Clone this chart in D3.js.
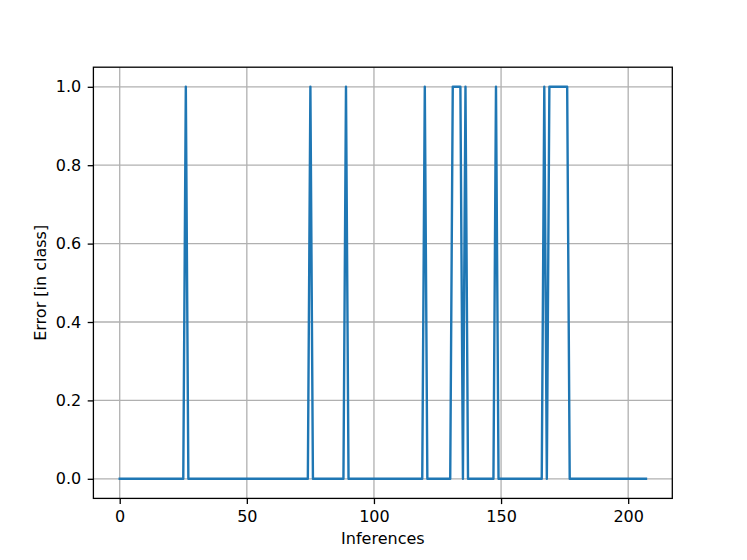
<!DOCTYPE html>
<html>
<head>
<meta charset="utf-8">
<script src="https://cdn.jsdelivr.net/npm/d3@7"></script>
<style>
  body { margin: 0; background: #fff; }
  svg { display: block; font-family: "DejaVu Sans", sans-serif; }
</style>
</head>
<body>
<div id="chart"></div>
<script>
// error per inference (0 = right class, 1 = wrong class)
const errors = [
  0, 0, 0, 0, 0, 0, 0, 0, 0, 0,
  0, 0, 0, 0, 0, 0, 0, 0, 0, 0,
  0, 0, 0, 0, 0, 0, 1, 0, 0, 0,
  0, 0, 0, 0, 0, 0, 0, 0, 0, 0,
  0, 0, 0, 0, 0, 0, 0, 0, 0, 0,
  0, 0, 0, 0, 0, 0, 0, 0, 0, 0,
  0, 0, 0, 0, 0, 0, 0, 0, 0, 0,
  0, 0, 0, 0, 0, 1, 0, 0, 0, 0,
  0, 0, 0, 0, 0, 0, 0, 0, 0, 1,
  0, 0, 0, 0, 0, 0, 0, 0, 0, 0,
  0, 0, 0, 0, 0, 0, 0, 0, 0, 0,
  0, 0, 0, 0, 0, 0, 0, 0, 0, 0,
  1, 0, 0, 0, 0, 0, 0, 0, 0, 0,
  0, 1, 1, 1, 1, 0, 1, 0, 0, 0,
  0, 0, 0, 0, 0, 0, 0, 0, 1, 0,
  0, 0, 0, 0, 0, 0, 0, 0, 0, 0,
  0, 0, 0, 0, 0, 0, 0, 1, 0, 1,
  1, 1, 1, 1, 1, 1, 1, 0, 0, 0,
  0, 0, 0, 0, 0, 0, 0, 0, 0, 0,
  0, 0, 0, 0, 0, 0, 0, 0, 0, 0,
  0, 0, 0, 0, 0, 0, 0, 0
];
const xTicks = [0, 50, 100, 150, 200];
const yTicks = [0.0, 0.2, 0.4, 0.6, 0.8, 1.0];

const W = 747, H = 560;
const margin = {top: 67.2, right: 747 - 672.3, bottom: 560 - 498.4, left: 93.4};
const width = W - margin.left - margin.right,
      height = H - margin.top - margin.bottom;

const svg = d3.select("#chart").append("svg")
    .attr("width", W)
    .attr("height", H);
svg.append("rect").attr("width", W).attr("height", H).attr("fill", "#fff");

const g = svg.append("g")
    .attr("transform", "translate(" + margin.left + "," + margin.top + ")");

// matplotlib style 5% margins
const n = errors.length - 1;
const x = d3.scaleLinear().domain([-0.05 * n, n * 1.05]).range([0, width]);
const y = d3.scaleLinear().domain([-0.05, 1.05]).range([height, 0]);

// grid
g.append("g").selectAll("line").data(xTicks).enter().append("line")
    .attr("x1", d => x(d)).attr("x2", d => x(d))
    .attr("y1", 0).attr("y2", height)
    .attr("stroke", "#b0b0b0").attr("stroke-width", 1.3);
g.append("g").selectAll("line").data(yTicks).enter().append("line")
    .attr("y1", d => y(d)).attr("y2", d => y(d))
    .attr("x1", 0).attr("x2", width)
    .attr("stroke", "#b0b0b0").attr("stroke-width", 1.3);

// data line
const line = d3.line()
    .x((d, i) => x(i))
    .y(d => y(d));
g.append("path")
    .datum(errors)
    .attr("d", line)
    .attr("fill", "none")
    .attr("stroke", "#1f77b4")
    .attr("stroke-width", 2.4)
    .attr("stroke-linejoin", "round")
    .attr("stroke-linecap", "square");

// axes
const xAxis = g.append("g")
    .attr("transform", "translate(0," + height + ")")
    .call(d3.axisBottom(x).tickValues(xTicks).tickSize(5.7).tickPadding(6.5).tickSizeOuter(0));
const yAxis = g.append("g")
    .call(d3.axisLeft(y).tickValues(yTicks).tickFormat(d3.format(".1f")).tickSize(5.7).tickPadding(6.5).tickSizeOuter(0));

[xAxis, yAxis].forEach(a => {
    a.select(".domain").remove();
    a.selectAll(".tick line").attr("stroke", "#000").attr("stroke-width", 1.3);
    a.selectAll(".tick text")
        .attr("fill", "#000")
        .style("font-family", "DejaVu Sans")
        .style("font-size", "16px");
});

// frame
g.append("rect")
    .attr("width", width).attr("height", height)
    .attr("fill", "none")
    .attr("stroke", "#000")
    .attr("stroke-width", 1.3);

// axis labels
svg.append("text")
    .attr("x", margin.left + width / 2)
    .attr("y", 544)
    .attr("text-anchor", "middle")
    .style("font-size", "16px")
    .text("Inferences");

svg.append("text")
    .attr("transform", "translate(46," + (margin.top + height / 2) + ") rotate(-90)")
    .attr("text-anchor", "middle")
    .style("font-size", "16px")
    .text("Error [in class]");
</script>
</body>
</html>
